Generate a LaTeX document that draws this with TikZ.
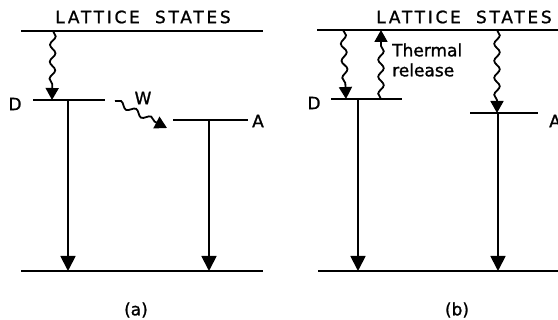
\documentclass[tikz,border=0pt]{standalone}
\usepackage{fontspec}
\setmainfont[FakeBold=1.2,AutoFakeBold=1.2]{DejaVu Sans}
\newfontfamily\spacedfont[LetterSpace=16,FakeBold=1.2]{DejaVu Sans}
\usetikzlibrary{arrows.meta,decorations.pathmorphing}

\tikzset{
  level/.style={line width=2pt},
  drop/.style={line width=1.8pt,-{Triangle[width=15pt,length=15pt]}},
  wavy/.style={line width=1.8pt,-{Triangle[width=13pt,length=12pt]},
    decorate,decoration={snake,segment length=17pt,amplitude=2.8pt,post length=11pt}},
  lbl/.style={inner sep=0pt,font=\fontsize{17}{20}\selectfont\bfseries},
  title/.style={inner sep=0pt,font=\fontsize{17}{20}\selectfont\spacedfont}
}

\begin{document}
\begin{tikzpicture}[x=1pt,y=-1pt]
   \useasboundingbox (0,0) rectangle (558,320);
   \clip (0,0) rectangle (558,320);

   % (a)
   \coordinate (topLa) at (21,31);   \coordinate (topRa) at (263,31);
   \coordinate (botLa) at (21,271);  \coordinate (botRa) at (263,271);
   \coordinate (dLa) at (33,100);    \coordinate (dRa) at (105,100);
   \coordinate (aLa) at (173,120);   \coordinate (aRa) at (248,120);
   \coordinate (inTopa) at (53,31);  \coordinate (inDa) at (52,100);
   \coordinate (dTopa) at (68,100);  \coordinate (dBota) at (68,271);
   \coordinate (aTopa) at (209,120); \coordinate (aBota) at (209,271);
   \coordinate (wStart) at (115,101); \coordinate (wEnd) at (167,128);

   \node[title] (latticeA) at (143,17) {LATTICE\hspace{7pt} STATES};
   \node[lbl] (dA) at (15,104) {D};
   \node[lbl] (accA) at (258,121) {A};
   \node[lbl] (w) at (143,98) {W};
   \node[lbl] (capA) at (136,310) {(a)};

   \draw[level] (topLa) -- (topRa);
   \draw[level] (botLa) -- (botRa);
   \draw[level] (dLa) -- (dRa);
   \draw[level] (aLa) -- (aRa);
   \draw[wavy] (inTopa) -- (inDa);
   \draw[wavy] (wStart) -- (wEnd);
   \draw[drop] (dTopa) -- (dBota);
   \draw[drop] (aTopa) -- (aBota);

   % (b)
   \coordinate (topLb) at (317,30);  \coordinate (topRb) at (558,30);
   \coordinate (botLb) at (318,271); \coordinate (botRb) at (558,271);
   \coordinate (dLb) at (331,99);    \coordinate (dRb) at (402,99);
   \coordinate (aLb) at (470,113);   \coordinate (aRb) at (538,113);
   \coordinate (inTopb) at (343,30); \coordinate (inDb) at (346,99);
   \coordinate (relD) at (381,99);   \coordinate (relTop) at (381,30);
   \coordinate (inTopAb) at (497,30); \coordinate (inAb) at (497,113);
   \coordinate (dTopb) at (358,99);  \coordinate (dBotb) at (358,271);
   \coordinate (aTopb) at (498,113); \coordinate (aBotb) at (498,271);

   \node[title] (latticeB) at (464,17) {LATTICE\hspace{7pt} STATES};
   \node[lbl] (dB) at (314,103) {D};
   \node[lbl,anchor=west] (accB) at (549,121) {A};
   \node[lbl,anchor=west,align=left] (thermal) at (392,60) {Thermal\\release};
   \node[lbl] (capB) at (457,310) {(b)};

   \draw[level] (topLb) -- (topRb);
   \draw[level] (botLb) -- (botRb);
   \draw[level] (dLb) -- (dRb);
   \draw[level] (aLb) -- (aRb);
   \draw[wavy] (inTopb) -- (inDb);
   \draw[wavy] (relD) -- (relTop);
   \draw[wavy] (inTopAb) -- (inAb);
   \draw[drop] (dTopb) -- (dBotb);
   \draw[drop] (aTopb) -- (aBotb);
\end{tikzpicture}
\end{document}
